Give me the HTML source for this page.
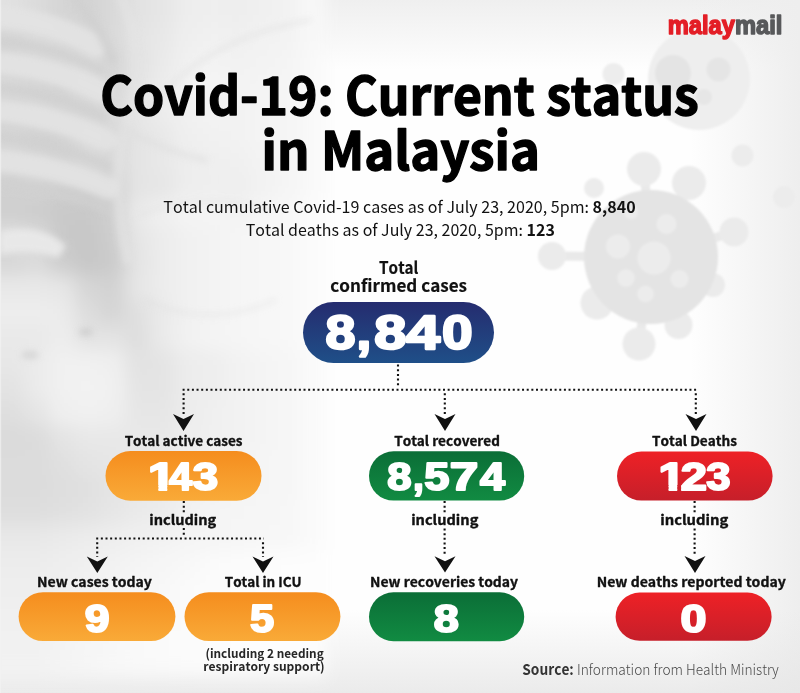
<!DOCTYPE html>
<html><head><meta charset="utf-8"><title>Covid-19: Current status in Malaysia</title>
<style>
html,body{margin:0;padding:0;background:#f4f4f4;}
body{width:800px;height:693px;overflow:hidden;position:relative;font-family:"Liberation Sans",Arial,sans-serif;}
svg{position:absolute;left:0;top:0;display:block;}
text{font-family:"Noto Sans CJK JP",sans-serif;font-kerning:none;font-variant-ligatures:none;}
</style></head><body>
<svg width="800" height="693" viewBox="0 0 800 693">
<defs>
<linearGradient id="gBlue" x1="0" y1="0" x2="0" y2="1"><stop offset="0" stop-color="#252c6f"/><stop offset="1" stop-color="#1f4f88"/></linearGradient>
<linearGradient id="gOr" x1="0" y1="0" x2="0" y2="1"><stop offset="0" stop-color="#f58d1e"/><stop offset="1" stop-color="#f9aa38"/></linearGradient>
<linearGradient id="gGr" x1="0" y1="0" x2="0" y2="1"><stop offset="0" stop-color="#0b6e37"/><stop offset="1" stop-color="#118b42"/></linearGradient>
<linearGradient id="gRd" x1="0" y1="0" x2="0" y2="1"><stop offset="0" stop-color="#ee2126"/><stop offset="1" stop-color="#c61f2a"/></linearGradient>

<filter id="pb" x="-10%" y="-10%" width="130%" height="130%"><feGaussianBlur stdDeviation="9"/></filter>
<filter id="b3" x="-50%" y="-50%" width="200%" height="200%"><feGaussianBlur stdDeviation="3"/></filter>
<filter id="b6" x="-50%" y="-50%" width="200%" height="200%"><feGaussianBlur stdDeviation="6"/></filter>
<filter id="bv" x="-20%" y="-20%" width="140%" height="140%"><feGaussianBlur stdDeviation="0.8"/></filter>
<linearGradient id="vTop" x1="0" y1="0" x2="0" y2="1">
  <stop offset="0" stop-color="#efefef" stop-opacity="1"/><stop offset="1" stop-color="#efefef" stop-opacity="0"/>
</linearGradient>
<linearGradient id="vRight" x1="0" y1="0" x2="1" y2="0">
  <stop offset="0" stop-color="#eeeeee" stop-opacity="0"/><stop offset="1" stop-color="#eeeeee" stop-opacity="1"/>
</linearGradient>
<linearGradient id="vBot" x1="0" y1="0" x2="0" y2="1">
  <stop offset="0" stop-color="#e6e6e6" stop-opacity="0"/><stop offset="1" stop-color="#e6e6e6" stop-opacity="1"/>
</linearGradient>

<clipPath id="c143" clipPathUnits="userSpaceOnUse"><rect x="0" y="0" width="800" height="484.99"/><rect x="158.44" y="483.99" width="8.76" height="40"/><rect x="181.47" y="0" width="800" height="693"/><rect x="167.20" y="0" width="800" height="484.99"/></clipPath>
<clipPath id="c123" clipPathUnits="userSpaceOnUse"><rect x="0" y="0" width="800" height="484.99"/><rect x="668.62" y="483.99" width="8.58" height="40"/><rect x="681.30" y="0" width="800" height="693"/><rect x="677.20" y="0" width="800" height="484.99"/></clipPath>
</defs>

<rect width="800" height="693" fill="#fefefe"/>
<rect width="800" height="70" fill="url(#vTop)"/>
<rect x="690" width="110" height="693" fill="url(#vRight)"/>
<rect y="610" width="800" height="83" fill="url(#vBot)" opacity="0.8"/>
<g filter="url(#pb)">
<rect x="-25" y="-25" width="25.5" height="25.5" fill="rgb(225,225,225)"/>
<rect x="0" y="-25" width="25.5" height="25.5" fill="rgb(225,225,225)"/>
<rect x="25" y="-25" width="25.5" height="25.5" fill="rgb(219,219,219)"/>
<rect x="50" y="-25" width="25.5" height="25.5" fill="rgb(213,213,213)"/>
<rect x="75" y="-25" width="25.5" height="25.5" fill="rgb(211,211,211)"/>
<rect x="100" y="-25" width="25.5" height="25.5" fill="rgb(217,217,217)"/>
<rect x="125" y="-25" width="25.5" height="25.5" fill="rgb(226,226,226)"/>
<rect x="150" y="-25" width="25.5" height="25.5" fill="rgb(230,230,230)"/>
<rect x="175" y="-25" width="25.5" height="25.5" fill="rgb(237,237,237)"/>
<rect x="200" y="-25" width="25.5" height="25.5" fill="rgb(239,239,239)"/>
<rect x="225" y="-25" width="25.5" height="25.5" fill="rgb(238,238,238)"/>
<rect x="250" y="-25" width="25.5" height="25.5" fill="rgb(240,240,240)"/>
<rect x="275" y="-25" width="25.5" height="25.5" fill="rgb(242,242,242)"/>
<rect x="300" y="-25" width="25.5" height="25.5" fill="rgb(248,248,248)"/>
<rect x="-25" y="0" width="25.5" height="25.5" fill="rgb(225,225,225)"/>
<rect x="0" y="0" width="25.5" height="25.5" fill="rgb(225,225,225)"/>
<rect x="25" y="0" width="25.5" height="25.5" fill="rgb(219,219,219)"/>
<rect x="50" y="0" width="25.5" height="25.5" fill="rgb(213,213,213)"/>
<rect x="75" y="0" width="25.5" height="25.5" fill="rgb(211,211,211)"/>
<rect x="100" y="0" width="25.5" height="25.5" fill="rgb(217,217,217)"/>
<rect x="125" y="0" width="25.5" height="25.5" fill="rgb(226,226,226)"/>
<rect x="150" y="0" width="25.5" height="25.5" fill="rgb(230,230,230)"/>
<rect x="175" y="0" width="25.5" height="25.5" fill="rgb(237,237,237)"/>
<rect x="200" y="0" width="25.5" height="25.5" fill="rgb(239,239,239)"/>
<rect x="225" y="0" width="25.5" height="25.5" fill="rgb(238,238,238)"/>
<rect x="250" y="0" width="25.5" height="25.5" fill="rgb(240,240,240)"/>
<rect x="275" y="0" width="25.5" height="25.5" fill="rgb(242,242,242)"/>
<rect x="300" y="0" width="25.5" height="25.5" fill="rgb(248,248,248)"/>
<rect x="-25" y="25" width="25.5" height="25.5" fill="rgb(215,215,215)"/>
<rect x="0" y="25" width="25.5" height="25.5" fill="rgb(215,215,215)"/>
<rect x="25" y="25" width="25.5" height="25.5" fill="rgb(219,219,219)"/>
<rect x="50" y="25" width="25.5" height="25.5" fill="rgb(217,217,217)"/>
<rect x="75" y="25" width="25.5" height="25.5" fill="rgb(213,213,213)"/>
<rect x="100" y="25" width="25.5" height="25.5" fill="rgb(217,217,217)"/>
<rect x="125" y="25" width="25.5" height="25.5" fill="rgb(228,228,228)"/>
<rect x="150" y="25" width="25.5" height="25.5" fill="rgb(232,232,232)"/>
<rect x="175" y="25" width="25.5" height="25.5" fill="rgb(239,239,239)"/>
<rect x="200" y="25" width="25.5" height="25.5" fill="rgb(241,241,241)"/>
<rect x="225" y="25" width="25.5" height="25.5" fill="rgb(240,240,240)"/>
<rect x="250" y="25" width="25.5" height="25.5" fill="rgb(242,242,242)"/>
<rect x="275" y="25" width="25.5" height="25.5" fill="rgb(243,243,243)"/>
<rect x="300" y="25" width="25.5" height="25.5" fill="rgb(248,248,248)"/>
<rect x="-25" y="50" width="25.5" height="25.5" fill="rgb(213,213,213)"/>
<rect x="0" y="50" width="25.5" height="25.5" fill="rgb(213,213,213)"/>
<rect x="25" y="50" width="25.5" height="25.5" fill="rgb(215,215,215)"/>
<rect x="50" y="50" width="25.5" height="25.5" fill="rgb(217,217,217)"/>
<rect x="75" y="50" width="25.5" height="25.5" fill="rgb(219,219,219)"/>
<rect x="100" y="50" width="25.5" height="25.5" fill="rgb(213,213,213)"/>
<rect x="125" y="50" width="25.5" height="25.5" fill="rgb(226,226,226)"/>
<rect x="150" y="50" width="25.5" height="25.5" fill="rgb(234,234,234)"/>
<rect x="175" y="50" width="25.5" height="25.5" fill="rgb(241,241,241)"/>
<rect x="200" y="50" width="25.5" height="25.5" fill="rgb(243,243,243)"/>
<rect x="225" y="50" width="25.5" height="25.5" fill="rgb(242,242,242)"/>
<rect x="250" y="50" width="25.5" height="25.5" fill="rgb(243,243,243)"/>
<rect x="275" y="50" width="25.5" height="25.5" fill="rgb(244,244,244)"/>
<rect x="300" y="50" width="25.5" height="25.5" fill="rgb(249,249,249)"/>
<rect x="-25" y="75" width="25.5" height="25.5" fill="rgb(217,217,217)"/>
<rect x="0" y="75" width="25.5" height="25.5" fill="rgb(217,217,217)"/>
<rect x="25" y="75" width="25.5" height="25.5" fill="rgb(213,213,213)"/>
<rect x="50" y="75" width="25.5" height="25.5" fill="rgb(211,211,211)"/>
<rect x="75" y="75" width="25.5" height="25.5" fill="rgb(219,219,219)"/>
<rect x="100" y="75" width="25.5" height="25.5" fill="rgb(215,215,215)"/>
<rect x="125" y="75" width="25.5" height="25.5" fill="rgb(228,228,228)"/>
<rect x="150" y="75" width="25.5" height="25.5" fill="rgb(236,236,236)"/>
<rect x="175" y="75" width="25.5" height="25.5" fill="rgb(243,243,243)"/>
<rect x="200" y="75" width="25.5" height="25.5" fill="rgb(245,245,245)"/>
<rect x="225" y="75" width="25.5" height="25.5" fill="rgb(243,243,243)"/>
<rect x="250" y="75" width="25.5" height="25.5" fill="rgb(244,244,244)"/>
<rect x="275" y="75" width="25.5" height="25.5" fill="rgb(245,245,245)"/>
<rect x="300" y="75" width="25.5" height="25.5" fill="rgb(249,249,249)"/>
<rect x="-25" y="100" width="25.5" height="25.5" fill="rgb(211,211,211)"/>
<rect x="0" y="100" width="25.5" height="25.5" fill="rgb(211,211,211)"/>
<rect x="25" y="100" width="25.5" height="25.5" fill="rgb(217,217,217)"/>
<rect x="50" y="100" width="25.5" height="25.5" fill="rgb(215,215,215)"/>
<rect x="75" y="100" width="25.5" height="25.5" fill="rgb(213,213,213)"/>
<rect x="100" y="100" width="25.5" height="25.5" fill="rgb(219,219,219)"/>
<rect x="125" y="100" width="25.5" height="25.5" fill="rgb(230,230,230)"/>
<rect x="150" y="100" width="25.5" height="25.5" fill="rgb(236,236,236)"/>
<rect x="175" y="100" width="25.5" height="25.5" fill="rgb(241,241,241)"/>
<rect x="200" y="100" width="25.5" height="25.5" fill="rgb(243,243,243)"/>
<rect x="225" y="100" width="25.5" height="25.5" fill="rgb(242,242,242)"/>
<rect x="250" y="100" width="25.5" height="25.5" fill="rgb(244,244,244)"/>
<rect x="275" y="100" width="25.5" height="25.5" fill="rgb(245,245,245)"/>
<rect x="300" y="100" width="25.5" height="25.5" fill="rgb(249,249,249)"/>
<rect x="-25" y="125" width="25.5" height="25.5" fill="rgb(215,215,215)"/>
<rect x="0" y="125" width="25.5" height="25.5" fill="rgb(215,215,215)"/>
<rect x="25" y="125" width="25.5" height="25.5" fill="rgb(209,209,209)"/>
<rect x="50" y="125" width="25.5" height="25.5" fill="rgb(211,211,211)"/>
<rect x="75" y="125" width="25.5" height="25.5" fill="rgb(219,219,219)"/>
<rect x="100" y="125" width="25.5" height="25.5" fill="rgb(215,215,215)"/>
<rect x="125" y="125" width="25.5" height="25.5" fill="rgb(228,228,228)"/>
<rect x="150" y="125" width="25.5" height="25.5" fill="rgb(232,232,232)"/>
<rect x="175" y="125" width="25.5" height="25.5" fill="rgb(239,239,239)"/>
<rect x="200" y="125" width="25.5" height="25.5" fill="rgb(241,241,241)"/>
<rect x="225" y="125" width="25.5" height="25.5" fill="rgb(242,242,242)"/>
<rect x="250" y="125" width="25.5" height="25.5" fill="rgb(244,244,244)"/>
<rect x="275" y="125" width="25.5" height="25.5" fill="rgb(245,245,245)"/>
<rect x="300" y="125" width="25.5" height="25.5" fill="rgb(249,249,249)"/>
<rect x="-25" y="150" width="25.5" height="25.5" fill="rgb(213,213,213)"/>
<rect x="0" y="150" width="25.5" height="25.5" fill="rgb(213,213,213)"/>
<rect x="25" y="150" width="25.5" height="25.5" fill="rgb(215,215,215)"/>
<rect x="50" y="150" width="25.5" height="25.5" fill="rgb(211,211,211)"/>
<rect x="75" y="150" width="25.5" height="25.5" fill="rgb(217,217,217)"/>
<rect x="100" y="150" width="25.5" height="25.5" fill="rgb(217,217,217)"/>
<rect x="125" y="150" width="25.5" height="25.5" fill="rgb(228,228,228)"/>
<rect x="150" y="150" width="25.5" height="25.5" fill="rgb(232,232,232)"/>
<rect x="175" y="150" width="25.5" height="25.5" fill="rgb(237,237,237)"/>
<rect x="200" y="150" width="25.5" height="25.5" fill="rgb(239,239,239)"/>
<rect x="225" y="150" width="25.5" height="25.5" fill="rgb(240,240,240)"/>
<rect x="250" y="150" width="25.5" height="25.5" fill="rgb(243,243,243)"/>
<rect x="275" y="150" width="25.5" height="25.5" fill="rgb(245,245,245)"/>
<rect x="300" y="150" width="25.5" height="25.5" fill="rgb(249,249,249)"/>
<rect x="-25" y="175" width="25.5" height="25.5" fill="rgb(209,209,209)"/>
<rect x="0" y="175" width="25.5" height="25.5" fill="rgb(209,209,209)"/>
<rect x="25" y="175" width="25.5" height="25.5" fill="rgb(211,211,211)"/>
<rect x="50" y="175" width="25.5" height="25.5" fill="rgb(207,207,207)"/>
<rect x="75" y="175" width="25.5" height="25.5" fill="rgb(205,205,205)"/>
<rect x="100" y="175" width="25.5" height="25.5" fill="rgb(207,207,207)"/>
<rect x="125" y="175" width="25.5" height="25.5" fill="rgb(228,228,228)"/>
<rect x="150" y="175" width="25.5" height="25.5" fill="rgb(230,230,230)"/>
<rect x="175" y="175" width="25.5" height="25.5" fill="rgb(237,237,237)"/>
<rect x="200" y="175" width="25.5" height="25.5" fill="rgb(239,239,239)"/>
<rect x="225" y="175" width="25.5" height="25.5" fill="rgb(238,238,238)"/>
<rect x="250" y="175" width="25.5" height="25.5" fill="rgb(242,242,242)"/>
<rect x="275" y="175" width="25.5" height="25.5" fill="rgb(245,245,245)"/>
<rect x="300" y="175" width="25.5" height="25.5" fill="rgb(249,249,249)"/>
<rect x="-25" y="200" width="25.5" height="25.5" fill="rgb(207,207,207)"/>
<rect x="0" y="200" width="25.5" height="25.5" fill="rgb(207,207,207)"/>
<rect x="25" y="200" width="25.5" height="25.5" fill="rgb(205,205,205)"/>
<rect x="50" y="200" width="25.5" height="25.5" fill="rgb(201,201,201)"/>
<rect x="75" y="200" width="25.5" height="25.5" fill="rgb(201,201,201)"/>
<rect x="100" y="200" width="25.5" height="25.5" fill="rgb(207,207,207)"/>
<rect x="125" y="200" width="25.5" height="25.5" fill="rgb(234,234,234)"/>
<rect x="150" y="200" width="25.5" height="25.5" fill="rgb(240,240,240)"/>
<rect x="175" y="200" width="25.5" height="25.5" fill="rgb(244,244,244)"/>
<rect x="200" y="200" width="25.5" height="25.5" fill="rgb(244,244,244)"/>
<rect x="225" y="200" width="25.5" height="25.5" fill="rgb(243,243,243)"/>
<rect x="250" y="200" width="25.5" height="25.5" fill="rgb(246,246,246)"/>
<rect x="275" y="200" width="25.5" height="25.5" fill="rgb(248,248,248)"/>
<rect x="300" y="200" width="25.5" height="25.5" fill="rgb(251,251,251)"/>
<rect x="-25" y="225" width="25.5" height="25.5" fill="rgb(223,223,223)"/>
<rect x="0" y="225" width="25.5" height="25.5" fill="rgb(223,223,223)"/>
<rect x="25" y="225" width="25.5" height="25.5" fill="rgb(217,217,217)"/>
<rect x="50" y="225" width="25.5" height="25.5" fill="rgb(201,201,201)"/>
<rect x="75" y="225" width="25.5" height="25.5" fill="rgb(199,199,199)"/>
<rect x="100" y="225" width="25.5" height="25.5" fill="rgb(205,205,205)"/>
<rect x="125" y="225" width="25.5" height="25.5" fill="rgb(230,230,230)"/>
<rect x="150" y="225" width="25.5" height="25.5" fill="rgb(236,236,236)"/>
<rect x="175" y="225" width="25.5" height="25.5" fill="rgb(241,241,241)"/>
<rect x="200" y="225" width="25.5" height="25.5" fill="rgb(243,243,243)"/>
<rect x="225" y="225" width="25.5" height="25.5" fill="rgb(245,245,245)"/>
<rect x="250" y="225" width="25.5" height="25.5" fill="rgb(247,247,247)"/>
<rect x="275" y="225" width="25.5" height="25.5" fill="rgb(248,248,248)"/>
<rect x="300" y="225" width="25.5" height="25.5" fill="rgb(251,251,251)"/>
<rect x="-25" y="250" width="25.5" height="25.5" fill="rgb(215,215,215)"/>
<rect x="0" y="250" width="25.5" height="25.5" fill="rgb(215,215,215)"/>
<rect x="25" y="250" width="25.5" height="25.5" fill="rgb(219,219,219)"/>
<rect x="50" y="250" width="25.5" height="25.5" fill="rgb(205,205,205)"/>
<rect x="75" y="250" width="25.5" height="25.5" fill="rgb(199,199,199)"/>
<rect x="100" y="250" width="25.5" height="25.5" fill="rgb(203,203,203)"/>
<rect x="125" y="250" width="25.5" height="25.5" fill="rgb(228,228,228)"/>
<rect x="150" y="250" width="25.5" height="25.5" fill="rgb(236,236,236)"/>
<rect x="175" y="250" width="25.5" height="25.5" fill="rgb(241,241,241)"/>
<rect x="200" y="250" width="25.5" height="25.5" fill="rgb(243,243,243)"/>
<rect x="225" y="250" width="25.5" height="25.5" fill="rgb(245,245,245)"/>
<rect x="250" y="250" width="25.5" height="25.5" fill="rgb(247,247,247)"/>
<rect x="275" y="250" width="25.5" height="25.5" fill="rgb(248,248,248)"/>
<rect x="300" y="250" width="25.5" height="25.5" fill="rgb(251,251,251)"/>
<rect x="-25" y="275" width="25.5" height="25.5" fill="rgb(232,232,232)"/>
<rect x="0" y="275" width="25.5" height="25.5" fill="rgb(232,232,232)"/>
<rect x="25" y="275" width="25.5" height="25.5" fill="rgb(232,232,232)"/>
<rect x="50" y="275" width="25.5" height="25.5" fill="rgb(230,230,230)"/>
<rect x="75" y="275" width="25.5" height="25.5" fill="rgb(214,214,214)"/>
<rect x="100" y="275" width="25.5" height="25.5" fill="rgb(210,210,210)"/>
<rect x="125" y="275" width="25.5" height="25.5" fill="rgb(230,230,230)"/>
<rect x="150" y="275" width="25.5" height="25.5" fill="rgb(236,236,236)"/>
<rect x="175" y="275" width="25.5" height="25.5" fill="rgb(241,241,241)"/>
<rect x="200" y="275" width="25.5" height="25.5" fill="rgb(243,243,243)"/>
<rect x="225" y="275" width="25.5" height="25.5" fill="rgb(245,245,245)"/>
<rect x="250" y="275" width="25.5" height="25.5" fill="rgb(247,247,247)"/>
<rect x="275" y="275" width="25.5" height="25.5" fill="rgb(248,248,248)"/>
<rect x="300" y="275" width="25.5" height="25.5" fill="rgb(251,251,251)"/>
<rect x="-25" y="300" width="25.5" height="25.5" fill="rgb(237,237,237)"/>
<rect x="0" y="300" width="25.5" height="25.5" fill="rgb(237,237,237)"/>
<rect x="25" y="300" width="25.5" height="25.5" fill="rgb(237,237,237)"/>
<rect x="50" y="300" width="25.5" height="25.5" fill="rgb(235,235,235)"/>
<rect x="75" y="300" width="25.5" height="25.5" fill="rgb(221,221,221)"/>
<rect x="100" y="300" width="25.5" height="25.5" fill="rgb(213,213,213)"/>
<rect x="125" y="300" width="25.5" height="25.5" fill="rgb(224,224,224)"/>
<rect x="150" y="300" width="25.5" height="25.5" fill="rgb(234,234,234)"/>
<rect x="175" y="300" width="25.5" height="25.5" fill="rgb(241,241,241)"/>
<rect x="200" y="300" width="25.5" height="25.5" fill="rgb(243,243,243)"/>
<rect x="225" y="300" width="25.5" height="25.5" fill="rgb(245,245,245)"/>
<rect x="250" y="300" width="25.5" height="25.5" fill="rgb(247,247,247)"/>
<rect x="275" y="300" width="25.5" height="25.5" fill="rgb(248,248,248)"/>
<rect x="300" y="300" width="25.5" height="25.5" fill="rgb(251,251,251)"/>
<rect x="-25" y="325" width="25.5" height="25.5" fill="rgb(233,233,233)"/>
<rect x="0" y="325" width="25.5" height="25.5" fill="rgb(233,233,233)"/>
<rect x="25" y="325" width="25.5" height="25.5" fill="rgb(233,233,233)"/>
<rect x="50" y="325" width="25.5" height="25.5" fill="rgb(237,237,237)"/>
<rect x="75" y="325" width="25.5" height="25.5" fill="rgb(227,227,227)"/>
<rect x="100" y="325" width="25.5" height="25.5" fill="rgb(227,227,227)"/>
<rect x="125" y="325" width="25.5" height="25.5" fill="rgb(222,222,222)"/>
<rect x="150" y="325" width="25.5" height="25.5" fill="rgb(234,234,234)"/>
<rect x="175" y="325" width="25.5" height="25.5" fill="rgb(242,242,242)"/>
<rect x="200" y="325" width="25.5" height="25.5" fill="rgb(244,244,244)"/>
<rect x="225" y="325" width="25.5" height="25.5" fill="rgb(245,245,245)"/>
<rect x="250" y="325" width="25.5" height="25.5" fill="rgb(247,247,247)"/>
<rect x="275" y="325" width="25.5" height="25.5" fill="rgb(248,248,248)"/>
<rect x="300" y="325" width="25.5" height="25.5" fill="rgb(251,251,251)"/>
<rect x="-25" y="350" width="25.5" height="25.5" fill="rgb(231,231,231)"/>
<rect x="0" y="350" width="25.5" height="25.5" fill="rgb(231,231,231)"/>
<rect x="25" y="350" width="25.5" height="25.5" fill="rgb(235,235,235)"/>
<rect x="50" y="350" width="25.5" height="25.5" fill="rgb(241,241,241)"/>
<rect x="75" y="350" width="25.5" height="25.5" fill="rgb(241,241,241)"/>
<rect x="100" y="350" width="25.5" height="25.5" fill="rgb(239,239,239)"/>
<rect x="125" y="350" width="25.5" height="25.5" fill="rgb(226,226,226)"/>
<rect x="150" y="350" width="25.5" height="25.5" fill="rgb(228,228,228)"/>
<rect x="175" y="350" width="25.5" height="25.5" fill="rgb(236,236,236)"/>
<rect x="200" y="350" width="25.5" height="25.5" fill="rgb(238,238,238)"/>
<rect x="225" y="350" width="25.5" height="25.5" fill="rgb(242,242,242)"/>
<rect x="250" y="350" width="25.5" height="25.5" fill="rgb(244,244,244)"/>
<rect x="275" y="350" width="25.5" height="25.5" fill="rgb(246,246,246)"/>
<rect x="300" y="350" width="25.5" height="25.5" fill="rgb(250,250,250)"/>
<rect x="-25" y="375" width="25.5" height="25.5" fill="rgb(227,227,227)"/>
<rect x="0" y="375" width="25.5" height="25.5" fill="rgb(227,227,227)"/>
<rect x="25" y="375" width="25.5" height="25.5" fill="rgb(235,235,235)"/>
<rect x="50" y="375" width="25.5" height="25.5" fill="rgb(241,241,241)"/>
<rect x="75" y="375" width="25.5" height="25.5" fill="rgb(242,242,242)"/>
<rect x="100" y="375" width="25.5" height="25.5" fill="rgb(241,241,241)"/>
<rect x="125" y="375" width="25.5" height="25.5" fill="rgb(228,228,228)"/>
<rect x="150" y="375" width="25.5" height="25.5" fill="rgb(228,228,228)"/>
<rect x="175" y="375" width="25.5" height="25.5" fill="rgb(236,236,236)"/>
<rect x="200" y="375" width="25.5" height="25.5" fill="rgb(238,238,238)"/>
<rect x="225" y="375" width="25.5" height="25.5" fill="rgb(242,242,242)"/>
<rect x="250" y="375" width="25.5" height="25.5" fill="rgb(244,244,244)"/>
<rect x="275" y="375" width="25.5" height="25.5" fill="rgb(246,246,246)"/>
<rect x="300" y="375" width="25.5" height="25.5" fill="rgb(250,250,250)"/>
<rect x="-25" y="400" width="25.5" height="25.5" fill="rgb(223,223,223)"/>
<rect x="0" y="400" width="25.5" height="25.5" fill="rgb(223,223,223)"/>
<rect x="25" y="400" width="25.5" height="25.5" fill="rgb(229,229,229)"/>
<rect x="50" y="400" width="25.5" height="25.5" fill="rgb(239,239,239)"/>
<rect x="75" y="400" width="25.5" height="25.5" fill="rgb(241,241,241)"/>
<rect x="100" y="400" width="25.5" height="25.5" fill="rgb(239,239,239)"/>
<rect x="125" y="400" width="25.5" height="25.5" fill="rgb(230,230,230)"/>
<rect x="150" y="400" width="25.5" height="25.5" fill="rgb(230,230,230)"/>
<rect x="175" y="400" width="25.5" height="25.5" fill="rgb(236,236,236)"/>
<rect x="200" y="400" width="25.5" height="25.5" fill="rgb(240,240,240)"/>
<rect x="225" y="400" width="25.5" height="25.5" fill="rgb(242,242,242)"/>
<rect x="250" y="400" width="25.5" height="25.5" fill="rgb(244,244,244)"/>
<rect x="275" y="400" width="25.5" height="25.5" fill="rgb(246,246,246)"/>
<rect x="300" y="400" width="25.5" height="25.5" fill="rgb(250,250,250)"/>
<rect x="-25" y="425" width="25.5" height="25.5" fill="rgb(218,218,218)"/>
<rect x="0" y="425" width="25.5" height="25.5" fill="rgb(218,218,218)"/>
<rect x="25" y="425" width="25.5" height="25.5" fill="rgb(220,220,220)"/>
<rect x="50" y="425" width="25.5" height="25.5" fill="rgb(228,228,228)"/>
<rect x="75" y="425" width="25.5" height="25.5" fill="rgb(232,232,232)"/>
<rect x="100" y="425" width="25.5" height="25.5" fill="rgb(232,232,232)"/>
<rect x="125" y="425" width="25.5" height="25.5" fill="rgb(232,232,232)"/>
<rect x="150" y="425" width="25.5" height="25.5" fill="rgb(232,232,232)"/>
<rect x="175" y="425" width="25.5" height="25.5" fill="rgb(238,238,238)"/>
<rect x="200" y="425" width="25.5" height="25.5" fill="rgb(240,240,240)"/>
<rect x="225" y="425" width="25.5" height="25.5" fill="rgb(242,242,242)"/>
<rect x="250" y="425" width="25.5" height="25.5" fill="rgb(244,244,244)"/>
<rect x="275" y="425" width="25.5" height="25.5" fill="rgb(246,246,246)"/>
<rect x="300" y="425" width="25.5" height="25.5" fill="rgb(250,250,250)"/>
<rect x="-25" y="450" width="25.5" height="25.5" fill="rgb(220,220,220)"/>
<rect x="0" y="450" width="25.5" height="25.5" fill="rgb(220,220,220)"/>
<rect x="25" y="450" width="25.5" height="25.5" fill="rgb(220,220,220)"/>
<rect x="50" y="450" width="25.5" height="25.5" fill="rgb(224,224,224)"/>
<rect x="75" y="450" width="25.5" height="25.5" fill="rgb(228,228,228)"/>
<rect x="100" y="450" width="25.5" height="25.5" fill="rgb(230,230,230)"/>
<rect x="125" y="450" width="25.5" height="25.5" fill="rgb(232,232,232)"/>
<rect x="150" y="450" width="25.5" height="25.5" fill="rgb(234,234,234)"/>
<rect x="175" y="450" width="25.5" height="25.5" fill="rgb(240,240,240)"/>
<rect x="200" y="450" width="25.5" height="25.5" fill="rgb(242,242,242)"/>
<rect x="225" y="450" width="25.5" height="25.5" fill="rgb(244,244,244)"/>
<rect x="250" y="450" width="25.5" height="25.5" fill="rgb(245,245,245)"/>
<rect x="275" y="450" width="25.5" height="25.5" fill="rgb(246,246,246)"/>
<rect x="300" y="450" width="25.5" height="25.5" fill="rgb(250,250,250)"/>
<rect x="-25" y="475" width="25.5" height="25.5" fill="rgb(220,220,220)"/>
<rect x="0" y="475" width="25.5" height="25.5" fill="rgb(220,220,220)"/>
<rect x="25" y="475" width="25.5" height="25.5" fill="rgb(220,220,220)"/>
<rect x="50" y="475" width="25.5" height="25.5" fill="rgb(222,222,222)"/>
<rect x="75" y="475" width="25.5" height="25.5" fill="rgb(224,224,224)"/>
<rect x="100" y="475" width="25.5" height="25.5" fill="rgb(228,228,228)"/>
<rect x="125" y="475" width="25.5" height="25.5" fill="rgb(232,232,232)"/>
<rect x="150" y="475" width="25.5" height="25.5" fill="rgb(234,234,234)"/>
<rect x="175" y="475" width="25.5" height="25.5" fill="rgb(240,240,240)"/>
<rect x="200" y="475" width="25.5" height="25.5" fill="rgb(242,242,242)"/>
<rect x="225" y="475" width="25.5" height="25.5" fill="rgb(244,244,244)"/>
<rect x="250" y="475" width="25.5" height="25.5" fill="rgb(245,245,245)"/>
<rect x="275" y="475" width="25.5" height="25.5" fill="rgb(246,246,246)"/>
<rect x="300" y="475" width="25.5" height="25.5" fill="rgb(250,250,250)"/>
<rect x="-25" y="500" width="25.5" height="25.5" fill="rgb(222,222,222)"/>
<rect x="0" y="500" width="25.5" height="25.5" fill="rgb(222,222,222)"/>
<rect x="25" y="500" width="25.5" height="25.5" fill="rgb(222,222,222)"/>
<rect x="50" y="500" width="25.5" height="25.5" fill="rgb(224,224,224)"/>
<rect x="75" y="500" width="25.5" height="25.5" fill="rgb(226,226,226)"/>
<rect x="100" y="500" width="25.5" height="25.5" fill="rgb(230,230,230)"/>
<rect x="125" y="500" width="25.5" height="25.5" fill="rgb(234,234,234)"/>
<rect x="150" y="500" width="25.5" height="25.5" fill="rgb(236,236,236)"/>
<rect x="175" y="500" width="25.5" height="25.5" fill="rgb(242,242,242)"/>
<rect x="200" y="500" width="25.5" height="25.5" fill="rgb(244,244,244)"/>
<rect x="225" y="500" width="25.5" height="25.5" fill="rgb(245,245,245)"/>
<rect x="250" y="500" width="25.5" height="25.5" fill="rgb(246,246,246)"/>
<rect x="275" y="500" width="25.5" height="25.5" fill="rgb(247,247,247)"/>
<rect x="300" y="500" width="25.5" height="25.5" fill="rgb(250,250,250)"/>
<rect x="-25" y="525" width="25.5" height="25.5" fill="rgb(232,232,232)"/>
<rect x="0" y="525" width="25.5" height="25.5" fill="rgb(232,232,232)"/>
<rect x="25" y="525" width="25.5" height="25.5" fill="rgb(232,232,232)"/>
<rect x="50" y="525" width="25.5" height="25.5" fill="rgb(234,234,234)"/>
<rect x="75" y="525" width="25.5" height="25.5" fill="rgb(236,236,236)"/>
<rect x="100" y="525" width="25.5" height="25.5" fill="rgb(238,238,238)"/>
<rect x="125" y="525" width="25.5" height="25.5" fill="rgb(240,240,240)"/>
<rect x="150" y="525" width="25.5" height="25.5" fill="rgb(242,242,242)"/>
<rect x="175" y="525" width="25.5" height="25.5" fill="rgb(244,244,244)"/>
<rect x="200" y="525" width="25.5" height="25.5" fill="rgb(245,245,245)"/>
<rect x="225" y="525" width="25.5" height="25.5" fill="rgb(246,246,246)"/>
<rect x="250" y="525" width="25.5" height="25.5" fill="rgb(247,247,247)"/>
<rect x="275" y="525" width="25.5" height="25.5" fill="rgb(247,247,247)"/>
<rect x="300" y="525" width="25.5" height="25.5" fill="rgb(250,250,250)"/>
<rect x="-25" y="550" width="25.5" height="25.5" fill="rgb(236,236,236)"/>
<rect x="0" y="550" width="25.5" height="25.5" fill="rgb(236,236,236)"/>
<rect x="25" y="550" width="25.5" height="25.5" fill="rgb(236,236,236)"/>
<rect x="50" y="550" width="25.5" height="25.5" fill="rgb(238,238,238)"/>
<rect x="75" y="550" width="25.5" height="25.5" fill="rgb(240,240,240)"/>
<rect x="100" y="550" width="25.5" height="25.5" fill="rgb(242,242,242)"/>
<rect x="125" y="550" width="25.5" height="25.5" fill="rgb(244,244,244)"/>
<rect x="150" y="550" width="25.5" height="25.5" fill="rgb(246,246,246)"/>
<rect x="175" y="550" width="25.5" height="25.5" fill="rgb(248,248,248)"/>
<rect x="200" y="550" width="25.5" height="25.5" fill="rgb(250,250,250)"/>
<rect x="225" y="550" width="25.5" height="25.5" fill="rgb(251,251,251)"/>
<rect x="250" y="550" width="25.5" height="25.5" fill="rgb(252,252,252)"/>
<rect x="275" y="550" width="25.5" height="25.5" fill="rgb(253,253,253)"/>
<rect x="300" y="550" width="25.5" height="25.5" fill="rgb(253,253,253)"/>
<rect x="-25" y="575" width="25.5" height="25.5" fill="rgb(238,238,238)"/>
<rect x="0" y="575" width="25.5" height="25.5" fill="rgb(238,238,238)"/>
<rect x="25" y="575" width="25.5" height="25.5" fill="rgb(238,238,238)"/>
<rect x="50" y="575" width="25.5" height="25.5" fill="rgb(240,240,240)"/>
<rect x="75" y="575" width="25.5" height="25.5" fill="rgb(242,242,242)"/>
<rect x="100" y="575" width="25.5" height="25.5" fill="rgb(244,244,244)"/>
<rect x="125" y="575" width="25.5" height="25.5" fill="rgb(246,246,246)"/>
<rect x="150" y="575" width="25.5" height="25.5" fill="rgb(248,248,248)"/>
<rect x="175" y="575" width="25.5" height="25.5" fill="rgb(250,250,250)"/>
<rect x="200" y="575" width="25.5" height="25.5" fill="rgb(251,251,251)"/>
<rect x="225" y="575" width="25.5" height="25.5" fill="rgb(252,252,252)"/>
<rect x="250" y="575" width="25.5" height="25.5" fill="rgb(253,253,253)"/>
<rect x="275" y="575" width="25.5" height="25.5" fill="rgb(253,253,253)"/>
<rect x="300" y="575" width="25.5" height="25.5" fill="rgb(253,253,253)"/>
<rect x="-25" y="600" width="25.5" height="25.5" fill="rgb(240,240,240)"/>
<rect x="0" y="600" width="25.5" height="25.5" fill="rgb(240,240,240)"/>
<rect x="25" y="600" width="25.5" height="25.5" fill="rgb(240,240,240)"/>
<rect x="50" y="600" width="25.5" height="25.5" fill="rgb(242,242,242)"/>
<rect x="75" y="600" width="25.5" height="25.5" fill="rgb(244,244,244)"/>
<rect x="100" y="600" width="25.5" height="25.5" fill="rgb(246,246,246)"/>
<rect x="125" y="600" width="25.5" height="25.5" fill="rgb(248,248,248)"/>
<rect x="150" y="600" width="25.5" height="25.5" fill="rgb(249,249,249)"/>
<rect x="175" y="600" width="25.5" height="25.5" fill="rgb(250,250,250)"/>
<rect x="200" y="600" width="25.5" height="25.5" fill="rgb(251,251,251)"/>
<rect x="225" y="600" width="25.5" height="25.5" fill="rgb(252,252,252)"/>
<rect x="250" y="600" width="25.5" height="25.5" fill="rgb(253,253,253)"/>
<rect x="275" y="600" width="25.5" height="25.5" fill="rgb(253,253,253)"/>
<rect x="300" y="600" width="25.5" height="25.5" fill="rgb(253,253,253)"/>
<rect x="-25" y="625" width="25.5" height="25.5" fill="rgb(241,241,241)"/>
<rect x="0" y="625" width="25.5" height="25.5" fill="rgb(241,241,241)"/>
<rect x="25" y="625" width="25.5" height="25.5" fill="rgb(241,241,241)"/>
<rect x="50" y="625" width="25.5" height="25.5" fill="rgb(243,243,243)"/>
<rect x="75" y="625" width="25.5" height="25.5" fill="rgb(245,245,245)"/>
<rect x="100" y="625" width="25.5" height="25.5" fill="rgb(247,247,247)"/>
<rect x="125" y="625" width="25.5" height="25.5" fill="rgb(249,249,249)"/>
<rect x="150" y="625" width="25.5" height="25.5" fill="rgb(250,250,250)"/>
<rect x="175" y="625" width="25.5" height="25.5" fill="rgb(251,251,251)"/>
<rect x="200" y="625" width="25.5" height="25.5" fill="rgb(252,252,252)"/>
<rect x="225" y="625" width="25.5" height="25.5" fill="rgb(253,253,253)"/>
<rect x="250" y="625" width="25.5" height="25.5" fill="rgb(253,253,253)"/>
<rect x="275" y="625" width="25.5" height="25.5" fill="rgb(253,253,253)"/>
<rect x="300" y="625" width="25.5" height="25.5" fill="rgb(253,253,253)"/>
<rect x="-25" y="650" width="25.5" height="25.5" fill="rgb(242,242,242)"/>
<rect x="0" y="650" width="25.5" height="25.5" fill="rgb(242,242,242)"/>
<rect x="25" y="650" width="25.5" height="25.5" fill="rgb(242,242,242)"/>
<rect x="50" y="650" width="25.5" height="25.5" fill="rgb(244,244,244)"/>
<rect x="75" y="650" width="25.5" height="25.5" fill="rgb(246,246,246)"/>
<rect x="100" y="650" width="25.5" height="25.5" fill="rgb(248,248,248)"/>
<rect x="125" y="650" width="25.5" height="25.5" fill="rgb(249,249,249)"/>
<rect x="150" y="650" width="25.5" height="25.5" fill="rgb(250,250,250)"/>
<rect x="175" y="650" width="25.5" height="25.5" fill="rgb(251,251,251)"/>
<rect x="200" y="650" width="25.5" height="25.5" fill="rgb(252,252,252)"/>
<rect x="225" y="650" width="25.5" height="25.5" fill="rgb(253,253,253)"/>
<rect x="250" y="650" width="25.5" height="25.5" fill="rgb(253,253,253)"/>
<rect x="275" y="650" width="25.5" height="25.5" fill="rgb(253,253,253)"/>
<rect x="300" y="650" width="25.5" height="25.5" fill="rgb(253,253,253)"/>
</g>

<g filter="url(#b3)" fill="none" stroke-linecap="round">
  <g stroke="#e4e4e4" stroke-width="22" opacity="0.9">
    <path d="M-10,16 Q45,18 96,46"/>
    <path d="M-10,62 Q50,66 102,92"/>
    <path d="M-10,110 Q50,114 106,140"/>
    <path d="M-10,160 Q50,164 108,188"/>
  </g>
  <g stroke="#d0d0d0" stroke-width="9" opacity="0.8">
    <path d="M-10,40 Q50,44 100,70"/>
    <path d="M-10,87 Q50,91 104,117"/>
    <path d="M-10,136 Q50,140 108,166"/>
    <path d="M-10,184 Q50,188 110,210"/>
    <path d="M75,0 Q100,25 112,60"/>
  </g>
  <path d="M0,232 Q40,222 66,246 L58,258 Q30,248 0,254 Z" fill="#e8e8e8" stroke="none"/>
  <path d="M122,0 Q150,60 122,140 Q112,200 128,260" stroke="#e4e4e4" stroke-width="10" opacity="0.6"/>
  <path d="M150,110 Q200,40 310,20" stroke="#dcdcdc" stroke-width="3" opacity="0.6"/>
  <path d="M118,125 Q160,150 205,160" stroke="#dedede" stroke-width="6" opacity="0.5"/>
  <path d="M140,215 Q200,190 270,210" stroke="#dddddd" stroke-width="3" opacity="0.5"/>
  <path d="M145,300 Q210,330 275,300" stroke="#dddddd" stroke-width="3" opacity="0.5"/>
  <ellipse cx="86" cy="332" rx="7" ry="4" fill="#cfcfcf" stroke="none"/>
  <ellipse cx="30" cy="355" rx="9" ry="4" fill="#d6d6d6" stroke="none"/>
</g>

<g filter="url(#bv)"><rect x="651.0" y="252.5" width="88.3" height="9" fill="#e9e9e9" transform="rotate(-94.5 651 257)"/>
<rect x="651.0" y="252.5" width="83.2" height="9" fill="#e9e9e9" transform="rotate(-62.8 651 257)"/>
<rect x="651.0" y="252.5" width="86.7" height="9" fill="#e9e9e9" transform="rotate(-16.8 651 257)"/>
<rect x="651.0" y="252.5" width="99.0" height="9" fill="#e9e9e9" transform="rotate(-179.4 651 257)"/>
<rect x="651.0" y="252.5" width="68.0" height="9" fill="#e9e9e9" transform="rotate(24.3 651 257)"/>
<rect x="651.0" y="252.5" width="70.9" height="9" fill="#e9e9e9" transform="rotate(139.6 651 257)"/>
<rect x="651.0" y="252.5" width="73.4" height="9" fill="#e9e9e9" transform="rotate(68.0 651 257)"/>
<rect x="651.0" y="252.5" width="87.8" height="9" fill="#e9e9e9" transform="rotate(97.9 651 257)"/>
<circle cx="644" cy="169" r="17" fill="#ebebeb"/>
<circle cx="689" cy="183" r="17" fill="#ebebeb"/>
<circle cx="734" cy="232" r="14.5" fill="#ebebeb"/>
<circle cx="552" cy="256" r="14" fill="#ebebeb"/>
<circle cx="713" cy="285" r="12" fill="#ebebeb"/>
<circle cx="597" cy="303" r="16.5" fill="#ebebeb"/>
<circle cx="678.5" cy="325" r="14" fill="#ebebeb"/>
<circle cx="639" cy="344" r="16.5" fill="#ebebeb"/>
<circle cx="594" cy="188" r="10" fill="#ececec"/>
<circle cx="742.5" cy="155.5" r="11" fill="#ececec"/>
<circle cx="784" cy="197" r="11" fill="#ececec"/>
<circle cx="651" cy="257" r="67" fill="#e4e4e4"/>
<circle cx="654" cy="258" r="16.6" fill="#ececec"/>
<circle cx="618" cy="246.5" r="12" fill="#ececec"/>
<circle cx="666.5" cy="224" r="10" fill="#ececec"/>
<circle cx="626" cy="278" r="8.7" fill="#ececec"/>
<circle cx="645.5" cy="294" r="8.3" fill="#ececec"/>
<circle cx="679.5" cy="279" r="9" fill="#ececec"/>
<circle cx="631" cy="212" r="7" fill="#ececec"/>
<circle cx="613.5" cy="74" r="11" fill="#ededed"/>
<circle cx="699" cy="79" r="51" fill="#eeeeee"/>
<circle cx="673" cy="73" r="18" fill="#e4e4e4"/>
<circle cx="718.5" cy="69.5" r="12" fill="#e5e5e5"/>
<circle cx="704" cy="97" r="8" fill="#e6e6e6"/></g>
<rect id="leftedge" x="0" y="0" width="1.2" height="693" fill="#f2f2f2" opacity="0.7"/>

<g fill="#111" stroke="none">
<text x="100.21" y="115.00" font-size="52.5" textLength="598.54" lengthAdjust="spacingAndGlyphs" fill="#000" stroke="#000" stroke-width="1.4" stroke-linejoin="round" ><tspan style="font-family:'Noto Sans CJK JP',sans-serif" font-weight="700" >Covid-19: Current status</tspan></text>
<text x="261.55" y="169.50" font-size="52.5" textLength="278.35" lengthAdjust="spacingAndGlyphs" fill="#000" stroke="#000" stroke-width="1.4" stroke-linejoin="round" ><tspan style="font-family:'Noto Sans CJK JP',sans-serif" font-weight="700" >in Malaysia</tspan></text>
<text x="163.30" y="212.80" font-size="15.8" textLength="472.40" lengthAdjust="spacingAndGlyphs" fill="#111111" ><tspan style="font-family:'Noto Sans CJK JP',sans-serif" font-weight="400" >Total cumulative Covid-19 cases as of July 23, 2020, 5pm: </tspan><tspan style="font-family:'Noto Sans CJK JP',sans-serif" font-weight="700" >8,840</tspan></text>
<text x="245.70" y="235.80" font-size="15.8" textLength="309.19" lengthAdjust="spacingAndGlyphs" fill="#111111" ><tspan style="font-family:'Noto Sans CJK JP',sans-serif" font-weight="400" >Total deaths as of July 23, 2020, 5pm: </tspan><tspan style="font-family:'Noto Sans CJK JP',sans-serif" font-weight="700" >123</tspan></text>
<text x="379.04" y="274.00" font-size="16.6" textLength="39.39" lengthAdjust="spacingAndGlyphs" fill="#111111" stroke="#111111" stroke-width="0.2" stroke-linejoin="round" ><tspan style="font-family:'Noto Sans CJK JP',sans-serif" font-weight="700" >Total</tspan></text>
<text x="330.35" y="291.80" font-size="16.6" textLength="136.71" lengthAdjust="spacingAndGlyphs" fill="#111111" stroke="#111111" stroke-width="0.2" stroke-linejoin="round" ><tspan style="font-family:'Noto Sans CJK JP',sans-serif" font-weight="700" >confirmed cases</tspan></text>
<text x="667.69" y="34" font-size="26.5" style="font-family:'Liberation Sans',sans-serif" font-weight="bold" textLength="114.74" lengthAdjust="spacingAndGlyphs" stroke-width="1.5" stroke-linejoin="round"><tspan fill="#e31e26" stroke="#e31e26">malay</tspan><tspan fill="#58595b" stroke="#58595b">mail</tspan></text>
<text x="124.67" y="445.50" font-size="13.6" textLength="117.90" lengthAdjust="spacingAndGlyphs" fill="#111111" stroke="#111111" stroke-width="0.35" stroke-linejoin="round" ><tspan style="font-family:'Noto Sans CJK JP',sans-serif" font-weight="700" >Total active cases</tspan></text>
<text x="394.17" y="445.50" font-size="13.6" textLength="105.72" lengthAdjust="spacingAndGlyphs" fill="#111111" stroke="#111111" stroke-width="0.35" stroke-linejoin="round" ><tspan style="font-family:'Noto Sans CJK JP',sans-serif" font-weight="700" >Total recovered</tspan></text>
<text x="652.07" y="445.50" font-size="13.6" textLength="84.81" lengthAdjust="spacingAndGlyphs" fill="#111111" stroke="#111111" stroke-width="0.35" stroke-linejoin="round" ><tspan style="font-family:'Noto Sans CJK JP',sans-serif" font-weight="700" >Total Deaths</tspan></text>
<text x="149.39" y="524.50" font-size="13.6" textLength="66.87" lengthAdjust="spacingAndGlyphs" fill="#111111" stroke="#111111" stroke-width="0.35" stroke-linejoin="round" ><tspan style="font-family:'Noto Sans CJK JP',sans-serif" font-weight="700" >including</tspan></text>
<text x="411.18" y="524.50" font-size="13.6" textLength="67.17" lengthAdjust="spacingAndGlyphs" fill="#111111" stroke="#111111" stroke-width="0.35" stroke-linejoin="round" ><tspan style="font-family:'Noto Sans CJK JP',sans-serif" font-weight="700" >including</tspan></text>
<text x="660.17" y="524.50" font-size="13.6" textLength="68.19" lengthAdjust="spacingAndGlyphs" fill="#111111" stroke="#111111" stroke-width="0.35" stroke-linejoin="round" ><tspan style="font-family:'Noto Sans CJK JP',sans-serif" font-weight="700" >including</tspan></text>
<text x="37.00" y="587.40" font-size="13.6" textLength="114.91" lengthAdjust="spacingAndGlyphs" fill="#111111" stroke="#111111" stroke-width="0.35" stroke-linejoin="round" ><tspan style="font-family:'Noto Sans CJK JP',sans-serif" font-weight="700" >New cases today</tspan></text>
<text x="224.77" y="587.40" font-size="13.6" textLength="76.82" lengthAdjust="spacingAndGlyphs" fill="#111111" stroke="#111111" stroke-width="0.35" stroke-linejoin="round" ><tspan style="font-family:'Noto Sans CJK JP',sans-serif" font-weight="700" >Total in ICU</tspan></text>
<text x="370.11" y="587.40" font-size="13.6" textLength="147.89" lengthAdjust="spacingAndGlyphs" fill="#111111" stroke="#111111" stroke-width="0.35" stroke-linejoin="round" ><tspan style="font-family:'Noto Sans CJK JP',sans-serif" font-weight="700" >New recoveries today</tspan></text>
<text x="596.70" y="587.40" font-size="13.6" textLength="189.11" lengthAdjust="spacingAndGlyphs" fill="#111111" stroke="#111111" stroke-width="0.35" stroke-linejoin="round" ><tspan style="font-family:'Noto Sans CJK JP',sans-serif" font-weight="700" >New deaths reported today</tspan></text>
<text x="205.50" y="657.80" font-size="12.3" textLength="118.19" lengthAdjust="spacingAndGlyphs" fill="#262626" ><tspan style="font-family:'Noto Sans CJK JP',sans-serif" font-weight="700" >(including 2 needing</tspan></text>
<text x="203.35" y="670.80" font-size="12.3" textLength="121.18" lengthAdjust="spacingAndGlyphs" fill="#262626" ><tspan style="font-family:'Noto Sans CJK JP',sans-serif" font-weight="700" >respiratory support)</tspan></text>
<text x="522.32" y="675.00" font-size="14.8" textLength="256.45" lengthAdjust="spacingAndGlyphs" fill="#111" ><tspan style="font-family:'Noto Sans CJK JP',sans-serif" font-weight="700" fill="#333">Source: </tspan><tspan style="font-family:'Noto Sans CJK JP',sans-serif" font-weight="300" fill="#4a4a4a">Information from Health Ministry</tspan></text>
</g>
<g stroke="#111" stroke-width="2.1" stroke-dasharray="2 2.65" fill="none">
<line x1="398" y1="364.6" x2="398" y2="386.5"/>
<line x1="182.6" y1="389.8" x2="697" y2="389.8"/>
<line x1="183.6" y1="393.3" x2="183.6" y2="414.5"/>
<line x1="444.8" y1="393.3" x2="444.8" y2="414.5"/>
<line x1="695.8" y1="393.3" x2="695.8" y2="414.5"/>
<line x1="183.8" y1="501" x2="183.8" y2="512.5"/>
<line x1="183.8" y1="528" x2="183.8" y2="535.5"/>
<line x1="96.2" y1="538.5" x2="264" y2="538.5"/>
<line x1="97.2" y1="542.2" x2="97.2" y2="557"/>
<line x1="263" y1="542.2" x2="263" y2="557"/>
<line x1="444.6" y1="501" x2="444.6" y2="512.5"/>
<line x1="444.6" y1="528.5" x2="444.6" y2="556"/>
<line x1="694.6" y1="501" x2="694.6" y2="512.5"/>
<line x1="694.6" y1="528.5" x2="694.6" y2="556"/>
</g>
<g fill="#111">
<polygon points="173.0,414 183.5,419 194.0,414 183.5,431"/>
<polygon points="434.5,414 445,419 455.5,414 445,431"/>
<polygon points="685.5,414 696,419 706.5,414 696,431"/>
<polygon points="86.8,556.5 97.3,561.5 107.8,556.5 97.3,573"/>
<polygon points="252.5,556.5 263,561.5 273.5,556.5 263,573"/>
<polygon points="434.5,556.3 445,561.3 455.5,556.3 445,572.6"/>
<polygon points="684.5,556 695,561 705.5,556 695,573"/>
</g>
<rect x="303" y="302" width="191" height="61" rx="30.5" ry="30.5" fill="url(#gBlue)"/>
<rect x="105.5" y="451" width="156.0" height="49.69999999999999" rx="24.849999999999994" ry="24.849999999999994" fill="url(#gOr)"/>
<rect x="369" y="451.3" width="155.20000000000005" height="49.30000000000001" rx="24.650000000000006" ry="24.650000000000006" fill="url(#gGr)"/>
<rect x="617" y="451.6" width="155.60000000000002" height="49.0" rx="24.5" ry="24.5" fill="url(#gRd)"/>
<rect x="18.6" y="592.2" width="156.8" height="48.799999999999955" rx="24.399999999999977" ry="24.399999999999977" fill="url(#gOr)"/>
<rect x="184.5" y="592.2" width="155.89999999999998" height="48.799999999999955" rx="24.399999999999977" ry="24.399999999999977" fill="url(#gOr)"/>
<rect x="369" y="592.3" width="155.20000000000005" height="48.90000000000009" rx="24.450000000000045" ry="24.450000000000045" fill="url(#gGr)"/>
<rect x="615.6" y="592.6" width="156.0" height="48.19999999999993" rx="24.099999999999966" ry="24.099999999999966" fill="url(#gRd)"/>
<g>
<text y="349.12" font-size="48.59" style="font-family:'Liberation Sans',sans-serif" font-weight="bold" fill="#fff" stroke="#fff" stroke-width="2.4" stroke-linejoin="round"><tspan x="325.49" textLength="29.97" lengthAdjust="spacingAndGlyphs">8</tspan><tspan x="356.59" textLength="14.76" lengthAdjust="spacingAndGlyphs">,</tspan><tspan x="374.36" textLength="32.22" lengthAdjust="spacingAndGlyphs">8</tspan><tspan x="406.28" textLength="33.85" lengthAdjust="spacingAndGlyphs">4</tspan><tspan x="442.02" textLength="30.64" lengthAdjust="spacingAndGlyphs">0</tspan></text>
<text y="490.22" font-size="38.56" style="font-family:'Liberation Sans',sans-serif" font-weight="bold" fill="#fff" stroke="#fff" stroke-width="2.0" stroke-linejoin="round" clip-path="url(#c143)"><tspan x="147.93" textLength="27.42" lengthAdjust="spacingAndGlyphs">1</tspan><tspan x="169.07" textLength="23.05" lengthAdjust="spacingAndGlyphs">4</tspan><tspan x="192.85" textLength="25.40" lengthAdjust="spacingAndGlyphs">3</tspan></text>
<text y="490.42" font-size="38.56" style="font-family:'Liberation Sans',sans-serif" font-weight="bold" fill="#fff" stroke="#fff" stroke-width="2.0" stroke-linejoin="round"><tspan x="387.21" textLength="24.33" lengthAdjust="spacingAndGlyphs">8</tspan><tspan x="412.94" textLength="10.88" lengthAdjust="spacingAndGlyphs">,</tspan><tspan x="424.31" textLength="25.15" lengthAdjust="spacingAndGlyphs">5</tspan><tspan x="449.69" textLength="28.56" lengthAdjust="spacingAndGlyphs">7</tspan><tspan x="479.92" textLength="25.02" lengthAdjust="spacingAndGlyphs">4</tspan></text>
<text y="490.22" font-size="38.56" style="font-family:'Liberation Sans',sans-serif" font-weight="bold" fill="#fff" stroke="#fff" stroke-width="2.0" stroke-linejoin="round" clip-path="url(#c123)"><tspan x="658.42" textLength="26.68" lengthAdjust="spacingAndGlyphs">1</tspan><tspan x="680.87" textLength="26.22" lengthAdjust="spacingAndGlyphs">2</tspan><tspan x="706.20" textLength="24.28" lengthAdjust="spacingAndGlyphs">3</tspan></text>
<text y="631.82" font-size="38.42" style="font-family:'Liberation Sans',sans-serif" font-weight="bold" fill="#fff" stroke="#fff" stroke-width="2.0" stroke-linejoin="round"><tspan x="84.85" textLength="24.80" lengthAdjust="spacingAndGlyphs">9</tspan></text>
<text y="631.82" font-size="38.42" style="font-family:'Liberation Sans',sans-serif" font-weight="bold" fill="#fff" stroke="#fff" stroke-width="2.0" stroke-linejoin="round"><tspan x="250.06" textLength="24.14" lengthAdjust="spacingAndGlyphs">5</tspan></text>
<text y="631.82" font-size="38.42" style="font-family:'Liberation Sans',sans-serif" font-weight="bold" fill="#fff" stroke="#fff" stroke-width="2.0" stroke-linejoin="round"><tspan x="433.77" textLength="25.12" lengthAdjust="spacingAndGlyphs">8</tspan></text>
<text y="631.82" font-size="38.42" style="font-family:'Liberation Sans',sans-serif" font-weight="bold" fill="#fff" stroke="#fff" stroke-width="2.0" stroke-linejoin="round"><tspan x="680.55" textLength="25.96" lengthAdjust="spacingAndGlyphs">0</tspan></text>
</g>
</svg>
</body></html>
